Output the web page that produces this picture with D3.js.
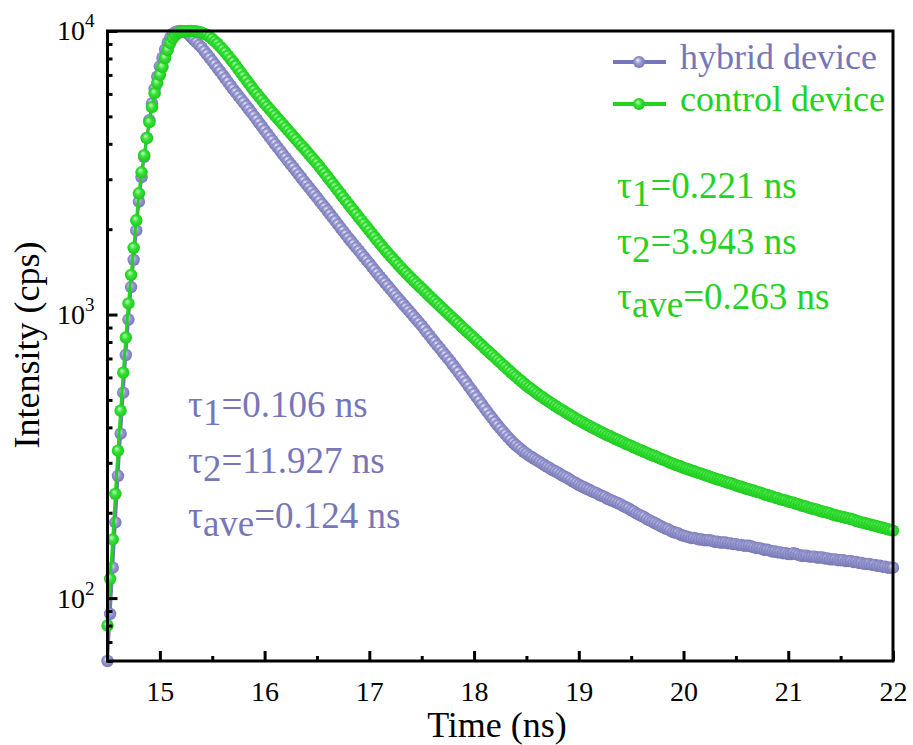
<!DOCTYPE html>
<html><head><meta charset="utf-8">
<script src="https://cdn.jsdelivr.net/npm/d3@7"></script>
<style>body{margin:0;background:#fff}</style>
</head><body>
<svg id="c" width="913" height="745"></svg>
<script>
// time channel grid (ns)
const timeStart = 14.5, timeStep = 0.025;
// hybrid device intensities (cps), one per channel from 14.5 to 22 ns
const hybrid = [
60,88,128,185,270,380,530,720,960,1250,1560,1980,2500,3050,3600,4200,4850,5550,6250,6900,
7500,8050,8600,9100,9500,9780,9930,9990,10000,9977,9886,9727,9506,9306,9110,8918,8730,8495,8268,8047,
7834,7616,7404,7198,6998,6800,6607,6419,6237,6070,5908,5751,5598,5445,5297,5152,5012,4870,4732,4598,
4467,4343,4222,4105,3990,3882,3776,3673,3573,3478,3385,3295,3206,3120,3037,2956,2877,2802,2729,2657,
2588,2519,2452,2386,2323,2259,2198,2138,2080,2023,1968,1914,1862,1815,1768,1723,1679,1636,1594,1554,
1514,1474,1435,1398,1361,1327,1294,1262,1230,1200,1169,1140,1112,1085,1059,1034,1009,984,960,937,
914,890,866,843,820,799,778,758,738,719,700,682,663,645,627,609,592,575,558,542,
526,511,496,482,468,455,442,430,418,407,397,387,378,369,361,353,346,340,334,328,
323,318,314,310,306,302,298,294,290,287,283,280,277,273,270,267,264,260,257,254,
251,248,246,243,241,238,236,234,231,229,227,224,222,220,218,216,214,211,209,207,
204,202,199,197,195,193,190,188,186,184,182,180,178,176,175,173,171,170,169,167,
166,165,164,163,163,162,161,161,160,160,160,159,158,158,157,157,157,156,156,155,
155,154,154,153,153,153,152,151,150,150,149,148,148,147,146,146,145,145,144,144,
143,143,144,143,142,141,141,141,140,140,140,139,139,139,138,138,137,137,137,136,
136,136,135,135,135,134,134,133,133,132,132,132,131,131,130,130,129,129,128,128,
128];
// control device intensities (cps)
const control = [
80,117,161,233,331,458,624,830,1094,1380,1720,2150,2677,3175,3646,4188,4769,5388,6035,6550,
6998,7466,8031,8570,9073,9441,9679,9838,9920,9965,9990,10000,10000,9990,9960,9920,9863,9772,9683,9528,
9376,9193,9016,8810,8610,8404,8185,7971,7762,7542,7328,7120,6918,6722,6531,6346,6166,6008,5855,5705,
5559,5423,5290,5160,5035,4914,4797,4683,4571,4462,4355,4251,4150,4051,3954,3860,3767,3675,3585,3497,
3412,3321,3232,3146,3062,2979,2897,2818,2742,2667,2594,2523,2455,2389,2326,2264,2203,2146,2089,2034,
1982,1929,1877,1827,1778,1735,1692,1651,1611,1574,1537,1501,1466,1434,1403,1372,1343,1315,1288,1262,
1236,1211,1186,1161,1138,1115,1093,1071,1050,1029,1008,988,968,949,930,911,893,876,859,842,
826,809,793,778,762,747,733,719,705,691,678,664,652,639,627,615,604,593,583,572,
562,553,545,536,527,519,512,504,497,490,483,476,470,464,458,452,446,440,435,429,
424,419,414,409,405,400,396,392,387,383,379,375,372,368,364,361,357,354,350,347,
344,340,337,334,331,328,325,322,319,317,314,311,308,306,303,300,298,295,293,291,
288,286,284,282,280,278,276,274,272,270,268,266,264,262,261,259,257,255,254,252,
250,248,247,245,243,242,240,239,237,236,234,232,231,229,228,226,225,223,222,221,
219,218,217,215,214,212,211,210,208,207,206,205,203,202,201,200,199,197,196,195,
194,193,192,191,190,189,187,186,185,184,183,182,181,180,179,178,177,176,175,174,
173];
const xTicks = [15,16,17,18,19,20,21,22];
const xMinorTicks = [15.5,16.5,17.5,18.5,19.5,20.5,21.5];
const yTicks = [100,1000,10000];
const yTickExp = {100:"2",1000:"3",10000:"4"};
const yMinorTicks = [60,70,80,90,200,300,400,500,600,700,800,900,2000,3000,4000,5000,6000,7000,8000,9000];
const seriesNames = ["hybrid device","control device"];
const hybridLifetimes = [["1","=0.106 ns"],["2","=11.927 ns"],["ave","=0.124 ns"]];
const controlLifetimes = [["1","=0.221 ns"],["2","=3.943 ns"],["ave","=0.263 ns"]];

const FONT='"Liberation Serif", "Times New Roman", serif';
const L=107.5,R=893,T=31,B=661;
const svg=d3.select("#c");
const x=d3.scaleLinear().domain([14.5,22]).range([L,R]);
const y=d3.scaleLog().domain([60,10000]).range([B,T]);

const colP="#7676b8", colG="#22d322";
const defs=svg.append("defs");
function grad(id,c0,c1,c2){
  const g=defs.append("radialGradient").attr("id",id).attr("cx","50%").attr("cy","50%").attr("r","55%").attr("fx","38%").attr("fy","32%");
  g.append("stop").attr("offset","0%").attr("stop-color",c0);
  g.append("stop").attr("offset","45%").attr("stop-color",c1);
  g.append("stop").attr("offset","100%").attr("stop-color",c2);
}
grad("gP","#f0f0fc","#9c9cd4","#7070b0");
grad("gG","#c0ffc0","#36e236","#18c418");

const toPts=arr=>arr.map((v,i)=>[timeStart+i*timeStep,v]);
const series=[{name:seriesNames[0],pts:toPts(hybrid),col:colP,fill:"url(#gP)"},
              {name:seriesNames[1],pts:toPts(control),col:colG,fill:"url(#gG)"}];
const line=d3.line().x(d=>x(d[0])).y(d=>y(d[1]));
const gData=svg.append("g");
series.forEach(s=>{
  gData.append("path").attr("d",line(s.pts)).attr("fill","none").attr("stroke",s.col).attr("stroke-width",3);
  gData.append("g").selectAll("circle").data(s.pts).join("circle")
    .attr("cx",d=>x(d[0])).attr("cy",d=>y(d[1])).attr("r",6.2).attr("fill",s.fill);
});

// axes
const fs=28;
const ax=svg.append("g").attr("transform",`translate(0,${B})`)
  .call(d3.axisBottom(x).tickValues(xTicks).tickSize(-10).tickPadding(20).tickFormat(d3.format("d")));
svg.append("g").attr("transform",`translate(0,${B})`)
  .call(d3.axisBottom(x).tickValues(xMinorTicks).tickSize(-5).tickFormat(""));
const ay=svg.append("g").attr("transform",`translate(${L},0)`)
  .call(d3.axisLeft(y).tickValues(yTicks).tickSize(-10).tickPadding(13).tickFormat(""));
svg.append("g").attr("transform",`translate(${L},0)`)
  .call(d3.axisLeft(y).tickValues(yMinorTicks).tickSize(-5).tickFormat(""));
svg.selectAll(".domain").remove();
svg.selectAll(".tick line").attr("stroke","#000").attr("stroke-width",3);
ax.selectAll("text").attr("font-size",fs).attr("fill","#000").style("font-family",FONT);
ay.selectAll(".tick").each(function(d){
  const t=d3.select(this).select("text").attr("font-size",fs).attr("fill","#000").attr("x",-13).attr("dy","0.32em").style("font-family",FONT);
  t.text(null);
  t.append("tspan").text("10");
  t.append("tspan").attr("font-size",19).attr("dy",-13).text(yTickExp[d]);
});
// frame
svg.append("rect").attr("x",L).attr("y",T).attr("width",R-L).attr("height",B-T)
  .attr("fill","none").attr("stroke","#000").attr("stroke-width",3);

// axis titles
svg.append("text").attr("x",497).attr("y",737).attr("text-anchor","middle").attr("font-size",36).style("font-family",FONT).text("Time (ns)");
svg.append("text").attr("transform","translate(39,345) rotate(-90)").attr("text-anchor","middle").attr("font-size",36).style("font-family",FONT).text("Intensity (cps)");

// legend
const legY=[62,104];
series.forEach((s,i)=>{
  svg.append("line").attr("x1",613).attr("x2",666).attr("y1",legY[i]).attr("y2",legY[i]).attr("stroke",s.col).attr("stroke-width",4);
  svg.append("circle").attr("cx",639).attr("cy",legY[i]).attr("r",6).attr("fill",s.fill);
  svg.append("text").attr("x",680).attr("y",legY[i]+7).attr("font-size",36).style("font-family",FONT).attr("fill",s.col).text(s.name);
});

// lifetime annotations
function ann(list,x0,ys,col){
  list.forEach((d,i)=>{
    const t=svg.append("text").attr("x",x0).attr("y",ys[i]).attr("font-size",37).style("font-family",FONT).attr("fill",col);
    t.append("tspan").text("τ");
    t.append("tspan").attr("dy",8).text(d[0]);
    t.append("tspan").attr("dy",-8).text(d[1]);
  });
}
ann(controlLifetimes,617,[198,254,309],colG);
ann(hybridLifetimes,188,[417,473,528],colP);
</script>
</body></html>
